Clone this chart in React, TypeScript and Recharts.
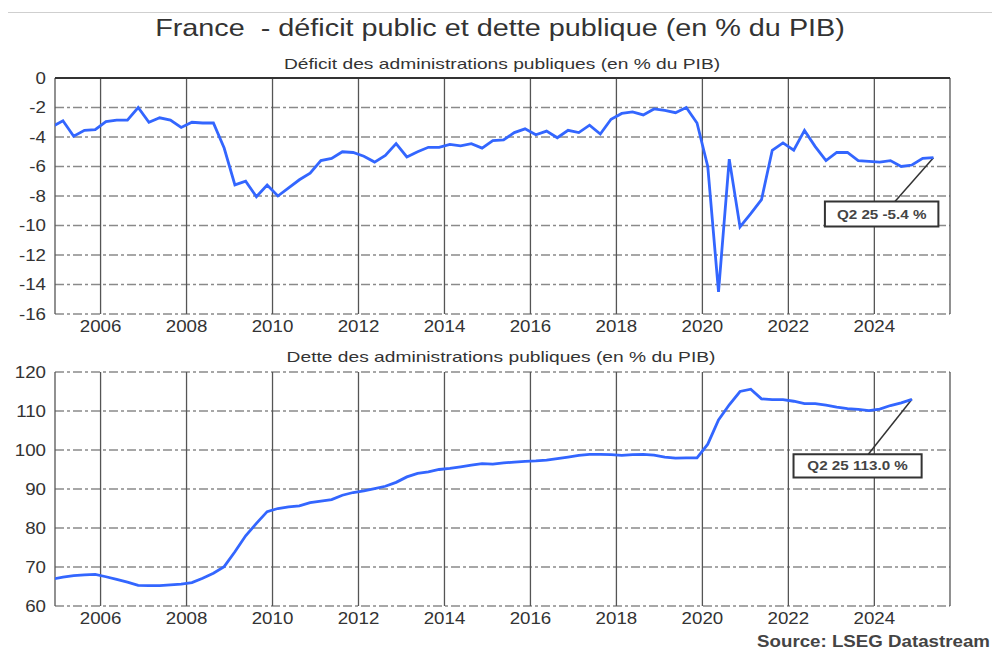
import React from "react";
import {
  LineChart,
  Line,
  XAxis,
  YAxis,
  CartesianGrid,
  ReferenceLine,
  ReferenceArea,
  Label,
} from "recharts";

const FONT = "'Liberation Sans', Arial, Helvetica, sans-serif";
const BLUE = "#3366ff";
const STRETCH = 1.17;

// first quarter shown (Q4 2004, partly clipped by the left edge)
const START_YEAR = 2004;
const START_Q = 4;

// Déficit public, % du PIB, quarterly from Q4 2004 to Q2 2025
const deficit = [
  -3.3,
  -2.9, -3.95, -3.55, -3.5,
  -2.95, -2.85, -2.85, -2.0,
  -3.0, -2.7, -2.85, -3.35,
  -3.0, -3.05, -3.05, -4.75,
  -7.25, -7.0, -8.05, -7.25,
  -8.0, -7.45, -6.9, -6.45,
  -5.6, -5.45, -5.0, -5.05,
  -5.3, -5.7, -5.25, -4.45,
  -5.35, -5.0, -4.7, -4.7,
  -4.5, -4.6, -4.45, -4.75,
  -4.25, -4.2, -3.7, -3.45,
  -3.85, -3.6, -4.05, -3.55,
  -3.7, -3.2, -3.8, -2.8,
  -2.4, -2.3, -2.5, -2.1,
  -2.2, -2.35, -2.0, -3.05,
  -6.0, -14.5, -5.5, -10.1,
  -9.2, -8.25, -4.9, -4.4,
  -4.9, -3.55, -4.65, -5.6,
  -5.05, -5.05, -5.6, -5.65,
  -5.7, -5.6, -6.0, -5.9,
  -5.45, -5.4,
];

// Dette publique, % du PIB, quarterly from Q4 2004
const debt = [
  66.9,
  67.4, 67.8, 68.0, 68.1,
  67.5, 66.8, 66.1, 65.3,
  65.2, 65.2, 65.4, 65.6,
  66.0, 67.1, 68.4, 70.1,
  73.9, 78.0, 81.2, 84.2,
  85.0, 85.4, 85.7, 86.5,
  86.9, 87.3, 88.4, 89.1,
  89.5, 90.1, 90.7, 91.7,
  93.1, 94.0, 94.4, 95.0,
  95.3, 95.7, 96.1, 96.5,
  96.4, 96.7, 96.9, 97.1,
  97.2, 97.4, 97.8, 98.2,
  98.6, 98.9, 98.9, 98.8,
  98.6, 98.8, 98.9, 98.7,
  98.2, 97.9, 98.0, 98.0,
  101.5, 107.7, 111.6, 115.0,
  115.6, 113.1, 112.9, 112.9,
  112.5, 111.9, 111.9, 111.5,
  111.0, 110.6, 110.4, 110.1,
  110.5, 111.4, 112.1, 113.0,
];

const yearTicks = [2006, 2008, 2010, 2012, 2014, 2016, 2018, 2020, 2022, 2024];
const deficitTicks = [-16, -14, -12, -10, -8, -6, -4, -2, 0];
const debtTicks = [60, 70, 80, 90, 100, 110, 120];
const X_DOMAIN = [2004.94, 2025.76];

// quarters are plotted at the middle of the quarter
const quarterTime = (i: number) => {
  const n = START_Q - 1 + i;
  return START_YEAR + Math.floor(n / 4) + ((n % 4) + 0.5) / 4;
};

const deficitData = deficit.map((v, i) => ({ t: quarterTime(i), v }));
const debtData = debt.map((v, i) => ({ t: quarterTime(i), v }));

// annotation boxes (data coordinates)
const deficitNote = { text: "Q2 25 -5.4 %", x1: 2022.85, x2: 2025.49, y1: -10.07, y2: -8.38, lx: 2024.48 };
const debtNote = { text: "Q2 25 113.0 %", x1: 2022.12, x2: 2025.1, y1: 92.96, y2: 98.93, lx: 2023.86 };

const StretchTick = (props: any) => {
  const { x, y, payload, textAnchor } = props;
  return (
    <text
      transform={`translate(${x},${y}) scale(${STRETCH},1)`}
      textAnchor={textAnchor}
      dy="0.36em"
      fontSize={16}
      fill="#333"
      fontFamily={FONT}
    >
      {payload.value}
    </text>
  );
};

const boxLabel = (text: string) => (props: any) => {
  const { x, y, width, height } = props.viewBox;
  return (
    <text
      transform={`translate(${x + width / 2},${y + height / 2}) scale(${STRETCH},1)`}
      textAnchor="middle"
      dy="0.36em"
      fontSize={13}
      fontWeight="bold"
      fill="#444"
      fontFamily={FONT}
    >
      {text}
    </text>
  );
};

const axisCommon = {
  axisLine: false,
  tickLine: false,
  tickSize: 0,
  interval: 0 as const,
  tick: (p: any) => <StretchTick {...p} />,
};

interface PanelProps {
  data: { t: number; v: number }[];
  domain: number[];
  ticks: number[];
  note: typeof deficitNote;
  height: number;
  top: number;
  zeroLine?: boolean;
}

const Panel: React.FC<PanelProps> = ({ data, domain, ticks, note, height, top, zeroLine }) => {
  const last = data[data.length - 1];
  return (
    <LineChart width={992} height={height} data={data} margin={{ top, right: 0, bottom: 0, left: 0 }}>
      <CartesianGrid yAxisId="l" vertical={false} stroke="#8a8a8a" strokeDasharray="9 3 3 3" strokeWidth={1.4} />
      <CartesianGrid yAxisId="l" horizontal={false} stroke="#555" strokeWidth={1.3} />
      <XAxis
        dataKey="t"
        type="number"
        domain={X_DOMAIN}
        ticks={yearTicks}
        allowDataOverflow
        height={26}
        tickMargin={12}
        {...axisCommon}
      />
      <YAxis yAxisId="l" domain={domain} ticks={ticks} width={55} tickMargin={9} {...axisCommon} />
      <YAxis yAxisId="r" orientation="right" domain={domain} ticks={ticks} width={42} tickMargin={8} {...axisCommon} />
      {zeroLine && <ReferenceLine yAxisId="l" y={0} stroke="#333" strokeWidth={2} />}
      <ReferenceLine
        yAxisId="l"
        segment={[
          { x: last.t, y: last.v },
          { x: note.lx, y: note.y2 },
        ]}
        stroke="#333"
        strokeWidth={1.5}
      />
      <ReferenceArea
        yAxisId="l"
        x1={note.x1}
        x2={note.x2}
        y1={note.y1}
        y2={note.y2}
        fill="#fff"
        fillOpacity={1}
        stroke="#333"
        strokeWidth={2}
      >
        <Label content={boxLabel(note.text)} />
      </ReferenceArea>
      <Line
        yAxisId="l"
        dataKey="v"
        type="linear"
        stroke={BLUE}
        strokeWidth={2.8}
        dot={false}
        isAnimationActive={false}
      />
    </LineChart>
  );
};

export default function App() {
  return (
    <div style={{ position: "absolute", left: 0, top: 0, width: 992, height: 657, background: "#fff" }}>
      <div style={{ position: "absolute", left: 0, top: 0 }}>
        <Panel data={deficitData} domain={[-16, 0]} ticks={deficitTicks} note={deficitNote} height={340} top={78} zeroLine />
      </div>
      <div style={{ position: "absolute", left: 0, top: 340 }}>
        <Panel data={debtData} domain={[60, 120]} ticks={debtTicks} note={debtNote} height={292} top={32} />
      </div>
      <svg width={992} height={657} style={{ position: "absolute", left: 0, top: 0, pointerEvents: "none" }}>
        <line x1={8} x2={992} y1={12.5} y2={12.5} stroke="#cfcfcf" strokeWidth={1} />
        <text
          transform="translate(500,35.7) scale(1.2,1)"
          textAnchor="middle"
          fontSize={24}
          fill="#333"
          fontFamily={FONT}
          style={{ whiteSpace: "pre" }}
        >
          France  - déficit public et dette publique (en % du PIB)
        </text>
        <text transform="translate(502,69) scale(1.28,1)" textAnchor="middle" fontSize={15} fill="#333" fontFamily={FONT}>
          Déficit des administrations publiques (en % du PIB)
        </text>
        <text transform="translate(501,362.3) scale(1.28,1)" textAnchor="middle" fontSize={15} fill="#333" fontFamily={FONT}>
          Dette des administrations publiques (en % du PIB)
        </text>
        <text
          transform="translate(990,647.3) scale(1.17,1)"
          textAnchor="end"
          fontSize={16}
          fontWeight="bold"
          fill="#444"
          fontFamily={FONT}
        >
          Source: LSEG Datastream
        </text>
      </svg>
    </div>
  );
}
